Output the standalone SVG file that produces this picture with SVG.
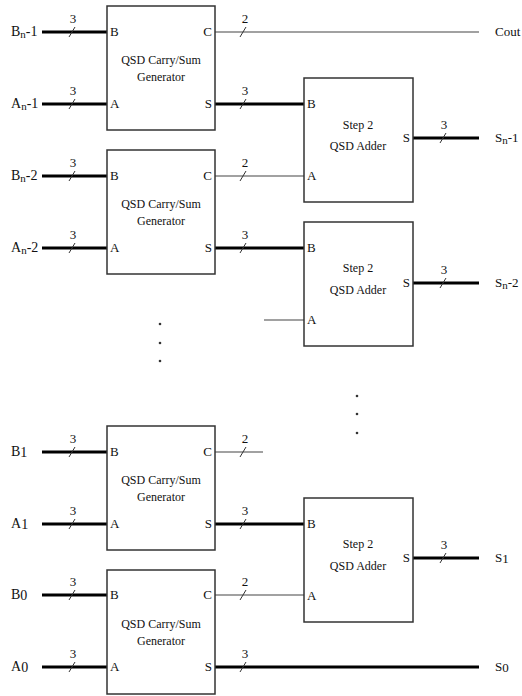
<svg xmlns="http://www.w3.org/2000/svg" width="522" height="696" viewBox="0 0 522 696">
<style>
.box{fill:#fff;stroke:#333;stroke-width:1.5}
.bus{stroke:#000;stroke-width:3;fill:none}
.wire{stroke:#444;stroke-width:1.2;fill:none}
.sl{stroke:#333;stroke-width:1}
text{font-family:"Liberation Serif","Times New Roman",serif;fill:#111}
.t{font-size:12px;text-anchor:middle}
.p{font-size:13px}
.pe{font-size:13px;text-anchor:end}
.n{font-size:13px;text-anchor:middle}
.lab{font-size:14px}
.rlab{font-size:13px}
.sub{font-size:11px}
.dot{fill:#333}
</style>
<g id="connectors">
<line class="bus" x1="42" y1="32" x2="107" y2="32"/>
<line class="bus" x1="42" y1="104" x2="107" y2="104"/>
<line class="wire" x1="215" y1="32" x2="479" y2="32"/>
<line class="bus" x1="215" y1="104" x2="304" y2="104"/>
<line class="bus" x1="413" y1="138" x2="479" y2="138"/>
<line class="bus" x1="42" y1="176" x2="107" y2="176"/>
<line class="bus" x1="42" y1="248" x2="107" y2="248"/>
<line class="wire" x1="215" y1="176" x2="304" y2="176"/>
<line class="bus" x1="215" y1="248" x2="304" y2="248"/>
<line class="bus" x1="413" y1="283" x2="479" y2="283"/>
<line class="wire" x1="264" y1="320" x2="304" y2="320"/>
<line class="bus" x1="42" y1="452" x2="107" y2="452"/>
<line class="bus" x1="42" y1="524" x2="107" y2="524"/>
<line class="wire" x1="215" y1="452" x2="263" y2="452"/>
<line class="bus" x1="215" y1="524" x2="304" y2="524"/>
<line class="bus" x1="413" y1="558" x2="479" y2="558"/>
<line class="bus" x1="42" y1="595" x2="107" y2="595"/>
<line class="bus" x1="42" y1="667" x2="107" y2="667"/>
<line class="wire" x1="215" y1="595" x2="304" y2="595"/>
<line class="bus" x1="215" y1="667" x2="479" y2="667"/>
<g class="sl">
<line x1="69" y1="37" x2="75" y2="27"/><line x1="69" y1="109" x2="75" y2="99"/>
<line x1="240" y1="37" x2="246" y2="27"/><line x1="240" y1="109" x2="246" y2="99"/>
<line x1="440" y1="143" x2="446" y2="133"/>
<line x1="69" y1="181" x2="75" y2="171"/><line x1="69" y1="253" x2="75" y2="243"/>
<line x1="240" y1="181" x2="246" y2="171"/><line x1="240" y1="253" x2="246" y2="243"/>
<line x1="440" y1="288" x2="446" y2="278"/>
<line x1="69" y1="457" x2="75" y2="447"/><line x1="69" y1="529" x2="75" y2="519"/>
<line x1="240" y1="457" x2="246" y2="447"/><line x1="240" y1="529" x2="246" y2="519"/>
<line x1="440" y1="563" x2="446" y2="553"/>
<line x1="69" y1="600" x2="75" y2="590"/><line x1="69" y1="672" x2="75" y2="662"/>
<line x1="240" y1="600" x2="246" y2="590"/><line x1="240" y1="672" x2="246" y2="662"/>
</g>
<g>
<text class="n" x="73" y="23">3</text><text class="n" x="73" y="95">3</text>
<text class="n" x="245" y="23">2</text><text class="n" x="245" y="95">3</text>
<text class="n" x="444" y="129">3</text>
<text class="n" x="73" y="167">3</text><text class="n" x="73" y="239">3</text>
<text class="n" x="245" y="167">2</text><text class="n" x="245" y="239">3</text>
<text class="n" x="444" y="274">3</text>
<text class="n" x="73" y="443">3</text><text class="n" x="73" y="515">3</text>
<text class="n" x="245" y="443">2</text><text class="n" x="245" y="515">3</text>
<text class="n" x="444" y="549">3</text>
<text class="n" x="73" y="586">3</text><text class="n" x="73" y="658">3</text>
<text class="n" x="245" y="586">2</text><text class="n" x="245" y="658">3</text>
</g>
</g>
<g id="labels">
<text class="lab" x="11" y="36">B<tspan class="sub" dy="2">n</tspan><tspan dy="-2">-1</tspan></text>
<text class="lab" x="11" y="108">A<tspan class="sub" dy="2">n</tspan><tspan dy="-2">-1</tspan></text>
<text class="lab" x="11" y="180">B<tspan class="sub" dy="2">n</tspan><tspan dy="-2">-2</tspan></text>
<text class="lab" x="11" y="252">A<tspan class="sub" dy="2">n</tspan><tspan dy="-2">-2</tspan></text>
<text class="lab" x="11" y="456">B<tspan dy="1">1</tspan></text>
<text class="lab" x="11" y="528">A<tspan dy="1">1</tspan></text>
<text class="lab" x="11" y="599">B<tspan dy="1">0</tspan></text>
<text class="lab" x="11" y="671">A<tspan dy="1">0</tspan></text>
<text class="rlab" x="495" y="36" font-size="12">Cout</text>
<text class="rlab" x="495" y="142">S<tspan class="sub" dy="2">n</tspan><tspan dy="-2">-1</tspan></text>
<text class="rlab" x="495" y="287">S<tspan class="sub" dy="2">n</tspan><tspan dy="-2">-2</tspan></text>
<text class="rlab" x="495" y="562">S<tspan dy="1">1</tspan></text>
<text class="rlab" x="495" y="671">S<tspan dy="1">0</tspan></text>
</g>
<g id="gen1">
<rect class="box" x="107" y="6" width="108" height="124"/>
<text class="p" x="110" y="36">B</text><text class="p" x="110" y="108">A</text>
<text class="pe" x="212" y="36">C</text><text class="pe" x="212" y="108">S</text>
<text class="t" x="161" y="64">QSD Carry/Sum</text><text class="t" x="161" y="81">Generator</text>
</g>
<g id="gen2">
<rect class="box" x="107" y="150" width="108" height="124"/>
<text class="p" x="110" y="180">B</text><text class="p" x="110" y="252">A</text>
<text class="pe" x="212" y="180">C</text><text class="pe" x="212" y="252">S</text>
<text class="t" x="161" y="208">QSD Carry/Sum</text><text class="t" x="161" y="225">Generator</text>
</g>
<g id="gen3">
<rect class="box" x="107" y="426" width="108" height="124"/>
<text class="p" x="110" y="456">B</text><text class="p" x="110" y="528">A</text>
<text class="pe" x="212" y="456">C</text><text class="pe" x="212" y="528">S</text>
<text class="t" x="161" y="484">QSD Carry/Sum</text><text class="t" x="161" y="501">Generator</text>
</g>
<g id="gen4">
<rect class="box" x="107" y="570" width="108" height="124"/>
<text class="p" x="110" y="599">B</text><text class="p" x="110" y="671">A</text>
<text class="pe" x="212" y="599">C</text><text class="pe" x="212" y="671">S</text>
<text class="t" x="161" y="628">QSD Carry/Sum</text><text class="t" x="161" y="645">Generator</text>
</g>
<g id="adder1">
<rect class="box" x="304" y="78" width="109" height="124"/>
<text class="p" x="307" y="108">B</text><text class="p" x="307" y="180">A</text>
<text class="pe" x="410" y="142">S</text>
<text class="t" x="358" y="129">Step 2</text><text class="t" x="358" y="150">QSD Adder</text>
</g>
<g id="adder2">
<rect class="box" x="304" y="222" width="109" height="124"/>
<text class="p" x="307" y="252">B</text><text class="p" x="307" y="324">A</text>
<text class="pe" x="410" y="287">S</text>
<text class="t" x="358" y="272">Step 2</text><text class="t" x="358" y="294">QSD Adder</text>
</g>
<g id="adder3">
<rect class="box" x="304" y="498" width="109" height="124"/>
<text class="p" x="307" y="528">B</text><text class="p" x="307" y="600">A</text>
<text class="pe" x="410" y="562">S</text>
<text class="t" x="358" y="548">Step 2</text><text class="t" x="358" y="570">QSD Adder</text>
</g>
<g id="dots">
<circle class="dot" cx="160" cy="324" r="1.3"/><circle class="dot" cx="160" cy="343" r="1.3"/><circle class="dot" cx="160" cy="361" r="1.3"/>
<circle class="dot" cx="357" cy="396" r="1.3"/><circle class="dot" cx="357" cy="414" r="1.3"/><circle class="dot" cx="357" cy="433" r="1.3"/>
</g>
</svg>
